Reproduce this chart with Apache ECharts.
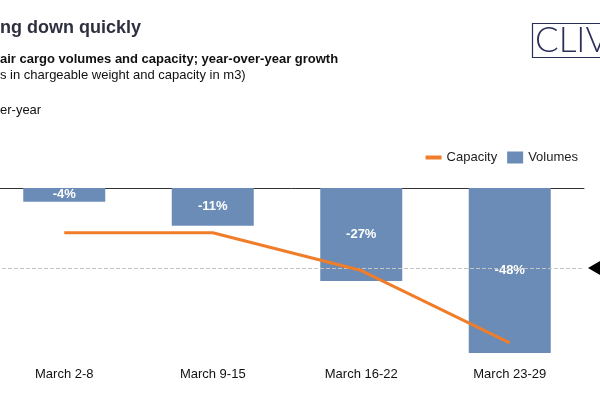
<!DOCTYPE html>
<html lang="en">
<head>
  <meta charset="UTF-8">
  <title>Air cargo volumes and capacity</title>
  <script src="https://cdn.jsdelivr.net/npm/echarts@6/dist/echarts.min.js"></script>
  <style>
    html, body { margin: 0; padding: 0; background: #fff; }
    #main { width: 600px; height: 400px; }
  </style>
</head>
<body>
<div id="main"></div>
<script>
  // data (year-over-year growth, %)
  var weeks = ['March 2-8', 'March 9-15', 'March 16-22', 'March 23-29'];
  var volumes = [-4, -11, -27, -48];
  var capacity = [-13, -13, -24, -45];
  var refLine = -23.3;

  var font = '"Liberation Sans", Arial, Helvetica, sans-serif';
  var myChart = echarts.init(document.getElementById('main'));

  myChart.setOption({
    animation: false,
    textStyle: { fontFamily: font },
    title: [
      { text: 'ng down quickly', left: 0, top: 19, padding: 0,
        textStyle: { fontSize: 18, fontWeight: 'bold', color: '#2e3040', fontFamily: font } },
      { text: 'air cargo volumes and capacity; year-over-year growth', left: 0, top: 53, padding: 0,
        textStyle: { fontSize: 13, fontWeight: 'bold', color: '#111', fontFamily: font } },
      { text: 's in chargeable weight and capacity in m3)', left: 0, top: 69, padding: 0,
        textStyle: { fontSize: 13, fontWeight: 'normal', color: '#111', fontFamily: font } },
      { text: 'er-year', left: 0, top: 104, padding: 0,
        textStyle: { fontSize: 13, fontWeight: 'normal', color: '#111', fontFamily: font } }
    ],
    legend: {
      right: 17,
      top: 146,
      itemWidth: 16,
      itemHeight: 12,
      itemGap: 10,
      data: [
        { name: 'Capacity', icon: 'path://M0,0H12V3H0Z' },
        { name: 'Volumes', icon: 'rect' }
      ],
      textStyle: { fontSize: 13, color: '#222', fontFamily: font }
    },
    grid: { left: -10, right: 16, top: 188, height: 172, outerBoundsMode: 'none', containLabel: false },
    xAxis: [
      {
        type: 'category',
        data: weeks,
        position: 'bottom',
        axisLine: { show: false },
        axisTick: { show: false },
        axisLabel: { fontSize: 13, color: '#111', margin: 8 }
      },
      {
        type: 'category',
        data: weeks,
        position: 'top',
        axisLine: { show: true, lineStyle: { color: '#333', width: 1 } },
        axisTick: { show: false },
        axisLabel: { show: false }
      }
    ],
    yAxis: {
      type: 'value',
      min: -50,
      max: 0,
      show: false
    },
    series: [
      {
        name: 'Volumes',
        type: 'bar',
        data: volumes,
        barWidth: 82,
        itemStyle: { color: '#6b8cb6' },
        label: {
          show: true,
          position: 'inside',
          formatter: '{c}%',
          color: '#fff',
          fontSize: 13,
          fontWeight: 'bold',
          fontFamily: font
        },
        markLine: {
          silent: true,
          symbol: ['none', 'none'],
          label: { show: false },
          lineStyle: { type: 'dashed', color: '#c4c4c4', width: 1 },
          data: [{ yAxis: refLine }]
        }
      },
      {
        name: 'Capacity',
        type: 'line',
        data: capacity,
        symbol: 'none',
        z: 5,
        lineStyle: { color: '#f07d2a', width: 3 },
        itemStyle: { color: '#f07d2a' }
      }
    ],
    graphic: [
      { type: 'polygon', shape: { points: [[588, 268], [600, 261], [600, 275]] },
        style: { fill: '#000' } },
      { type: 'rect', shape: { x: 532.5, y: 23.5, width: 80, height: 34 },
        style: { fill: 'none', stroke: '#2b2e58', lineWidth: 1.2 } },
      { type: 'text', x: 535, y: 41,
        style: { text: 'CLIV', fontSize: 35, fontWeight: 300, fontFamily: 'Lato, "Noto Sans", sans-serif',
          fill: '#2b2e58', verticalAlign: 'middle' } }
    ]
  });
</script>
</body>
</html>
